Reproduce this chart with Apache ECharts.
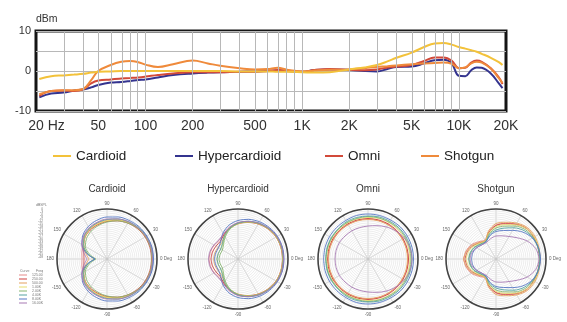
<!DOCTYPE html>
<html>
<head>
<meta charset="utf-8">
<script src="https://cdn.jsdelivr.net/npm/echarts@6/dist/echarts.min.js"></script>
<style>
  html, body { margin: 0; padding: 0; background: #fff; }
  #chart { width: 567px; height: 322px; }
</style>
</head>
<body>
<div id="chart"></div>
<script>
const FONT = "'Liberation Sans', Arial, sans-serif";

// ---- frequency response (dB vs Hz) ----
const freqs = [21, 25, 30, 35, 40, 45, 50, 60, 70, 80, 90, 100, 120, 150, 200, 250, 300, 400, 500, 600, 700, 800,
  1000, 1200, 1500, 2000, 2500, 3000, 3500, 4000, 5000, 6000, 7000, 8000, 9000, 10000, 11000, 12000, 13000, 14000,
  16000, 18000, 19000];
const cardioidDb = [-2.0, -1.3, -1.1, -0.9, -0.7, -0.4, -0.2, -0.1, 0, 0, 0, 0, 0, 0, 0, 0, 0, -0.1, -0.1, -0.1, -0.2, -0.2,
  -0.3, -0.4, -0.3, 0.4, 0.9, 1.5, 2.4, 3.3, 4.6, 6.0, 6.9, 7.0, 6.6, 6.0, 5.6, 5.2, 4.8, 4.3,
  3.3, 2.2, 1.5];
const hyperDb = [-6.6, -5.6, -5.4, -4.9, -4.6, -4.1, -3.5, -2.9, -2.75, -2.5, -2.25, -2.1, -1.6, -1.0, -0.6, -0.4, -0.3, -0.2, -0.1, 0, 0.1, 0,
  -0.2, 0.25, 0.4, 0.25, 0, -0.1, 0.5, 1.0, 1.1, 1.9, 2.7, 2.8, 1.9, -1.2, -1.3, 0.2, 0.9, 0.8,
  -0.6, -3.1, -4.3];
const omniDb = [-6.2, -5.0, -4.9, -5.0, -4.6, -3.1, -2.4, -2.1, -1.9, -1.75, -1.6, -1.4, -1.0, -0.6, -0.3, -0.3, -0.3, -0.2, -0.2, 0, 0.25, 0.1,
  -0.2, 0.25, 0.5, 0.3, 0.2, 0.4, 0.9, 1.1, 1.5, 2.5, 3.4, 3.4, 2.6, 0.7, 0.8, 2.1, 2.6, 2.3,
  0.7, -1.6, -3.3];
const shotgunDb = [-5.8, -5.0, -4.8, -4.8, -4.5, -2.3, 0, 1.5, 2.3, 2.5, 2.2, 1.6, 1.0, 1.7, 2.6, 1.9, 1.3, 0.7, 0.4, 0.5, 0.8, 0.3,
  -0.1, 0.1, 0.3, 0.4, 0.7, 1.0, 1.2, 1.4, 1.7, 1.9, 2.0, 2.1, 1.8, 0.7, 0.9, 1.9, 2.3, 2.1,
  0.6, -1.8, -3.0];

// grid lines at every 1..9 step of each decade, labels at 1-2-5 steps
const gridFreqs = [30, 40, 50, 60, 70, 80, 90, 100, 200, 300, 400, 500, 600, 700, 800, 900,
  1000, 2000, 3000, 4000, 5000, 6000, 7000, 8000, 9000, 10000];
const tickFreqs = [20, 50, 100, 200, 500, 1000, 2000, 5000, 10000, 20000];
const tickLabels = ['20 Hz', '50', '100', '200', '500', '1K', '2K', '5K', '10K', '20K'];
const dbLabelValues = [-10, 0, 10];

// ---- polar patterns: level (dB) at 0..180 deg, mirrored for the lower half ----
const polarAngles = [0, 15, 30, 45, 60, 75, 90, 105, 120, 135, 150, 165, 180];
const polarFreqs = ['125.00', '250.00', '500.00', '1.00K', '2.00K', '4.00K', '8.00K', '16.00K'];
const polarColors = ['#e58a8a', '#cf3f3f', '#e3a15f', '#e6dc6a', '#86b46e', '#55a3a0', '#5676c4', '#a779b3'];

const cardioidPolar = [
  [-5, -5, -5.5, -6.5, -8, -9.5, -11.5, -13, -15, -17.5, -22, -24, -25],
  [-5.5, -5.5, -6, -7, -8.5, -10.5, -12.5, -14.5, -16.5, -19, -23, -26, -27],
  [-5, -5, -5.5, -6.5, -8, -10, -12, -14, -16, -19, -23, -28, -32],
  [-4.5, -4.5, -5, -6, -7.5, -9.5, -11.5, -13.5, -15.5, -18.5, -23, -30, -37],
  [-5, -5, -5.5, -6.5, -8.5, -10.5, -13, -15.5, -18, -21, -25, -32, -39],
  [-4, -4, -4.5, -5.5, -7, -8.5, -10.5, -12.5, -15, -18, -23, -30, -38],
  [-3.5, -3.5, -4, -4.5, -5.5, -6.5, -8, -10, -12.5, -16, -21, -29, -38],
  [-4.5, -4.5, -5, -6, -7, -8.5, -10, -12, -14, -17, -21, -26, -30]
];
const hyperPolar = [
  [-5, -5, -5.5, -7, -9, -11.5, -14, -17.5, -21.5, -23.5, -22.5, -21.5, -21],
  [-5.5, -5.5, -6, -7.5, -9.5, -12, -14.5, -18, -22, -25, -24.5, -23.5, -23],
  [-5.5, -5.5, -6, -7.5, -9.5, -12, -15, -18.5, -23, -27, -27, -26, -25.5],
  [-5, -5, -5.5, -7, -9, -11.5, -14.5, -18.5, -23.5, -28.5, -30, -29.5, -29],
  [-5, -5, -5.5, -7, -9, -11.5, -14.5, -19, -24.5, -29.5, -32, -31.5, -31],
  [-4.5, -4.5, -5, -6.5, -8.5, -11, -14, -18, -23, -28, -30, -29.5, -29],
  [-4, -4, -4.5, -5.5, -7, -9, -11.5, -15, -20, -25.5, -27.5, -27, -26.5],
  [-4.5, -4.5, -5, -6.5, -8.5, -11, -13.5, -17, -21, -23, -22, -21, -20.5]
];
const omniPolar = [
  [-10, -10, -10, -10, -10, -10, -10, -10, -10, -10, -10, -10, -10],
  [-9.5, -9.5, -9.5, -9.5, -9.5, -9.5, -9.5, -9.5, -9.5, -9.5, -9.5, -9.5, -9.5],
  [-10.5, -10.5, -10.5, -10.5, -10.5, -10.5, -10.5, -10.5, -10.5, -10.5, -10.5, -10.5, -10.5],
  [-8, -8, -8, -8, -8, -8, -8.5, -8.5, -8.5, -8.5, -8.5, -8.5, -8.5],
  [-7, -7, -7, -7, -7.5, -7.5, -7.5, -8, -8, -8, -8, -8, -8],
  [-6, -6, -6, -6, -6.5, -6.5, -7, -7, -7, -7.5, -7.5, -7.5, -7.5],
  [-4.5, -4.5, -4.5, -4.5, -5, -5, -5, -5, -5.5, -5.5, -5.5, -5.5, -5.5],
  [-6, -6.5, -8, -10.5, -13, -15.5, -17, -17.5, -17.5, -17.5, -17, -17, -17]
];
const shotgunPolar = [
  [-6, -6, -6, -6.5, -9.5, -13, -16, -22, -28, -25.5, -21.5, -19, -17.5],
  [-6.5, -6.5, -6.5, -7, -10, -13.5, -16.5, -22.5, -29, -27, -23.5, -20.5, -19],
  [-6, -5.5, -5, -5.5, -8.5, -12, -14.5, -21, -28.5, -26.5, -22.5, -19.5, -17.5],
  [-6, -6, -6, -7, -10.5, -14.5, -17.5, -23, -29, -27.5, -24, -21.5, -20],
  [-6.5, -6.5, -7, -8.5, -12, -16, -19, -24, -29.5, -28.5, -25.5, -23.5, -22.5],
  [-6, -6.5, -7.5, -10, -14, -18, -21, -25, -30, -29, -26, -24, -23],
  [-5.5, -6, -8, -12, -17, -20.5, -22.5, -26, -30, -30, -27.5, -26, -25.5],
  [-7, -9, -14, -20, -24, -26, -27, -29, -31, -30, -27.5, -25, -24]
];
const dbScaleLabels = ['0', '-3', '-6', '-9', '-12', '-15', '-18', '-21', '-24', '-27', '-30', '-33', '-36', '-39', '-42', '-45', '-48'];

const mics = [
  { name: 'Cardioid', cx: 107, levels: cardioidPolar },
  { name: 'Hypercardioid', cx: 238, levels: hyperPolar },
  { name: 'Omni', cx: 368, levels: omniPolar },
  { name: 'Shotgun', cx: 496, levels: shotgunPolar }
];

const lg = Math.log10;
const pairs = vals => freqs.map((f, i) => [lg(f), vals[i]]);

// closed loop from -180 through 0 to 180 deg
function loop(vals) {
  const pts = [];
  for (let i = polarAngles.length - 1; i > 0; i--) pts.push([vals[i], -polarAngles[i]]);
  for (let i = 0; i < polarAngles.length; i++) pts.push([vals[i], polarAngles[i]]);
  return pts;
}

// vertical frequency grid, drawn under the curves
const freqGridSeries = {
  name: 'freq-grid', type: 'line', xAxisIndex: 0, yAxisIndex: 0, z: 1, silent: true,
  data: [], showSymbol: false,
  markLine: {
    silent: true, symbol: 'none', label: { show: false }, animation: false,
    lineStyle: { color: '#b8b8b8', width: 1, type: 'solid' },
    emphasis: { disabled: true },
    data: gridFreqs.map(f => ({ xAxis: lg(f) }))
  }
};

const responseSeries = [
  { name: 'Hypercardioid', color: '#34348f', vals: hyperDb },
  { name: 'Omni', color: '#d24a3a', vals: omniDb },
  { name: 'Shotgun', color: '#ef8a3b', vals: shotgunDb },
  { name: 'Cardioid', color: '#f3c23a', vals: cardioidDb }
].map(s => ({
  name: s.name, type: 'line', xAxisIndex: 0, yAxisIndex: 0, z: 3,
  data: pairs(s.vals), smooth: 0.4, showSymbol: false, symbol: 'none',
  lineStyle: { width: 2, color: s.color }, itemStyle: { color: s.color }
}));

const polarSeries = [];
mics.forEach((m, pi) => {
  m.levels.forEach((vals, k) => {
    polarSeries.push({
      name: polarFreqs[k], type: 'line', coordinateSystem: 'polar', polarIndex: pi,
      data: loop(vals), smooth: 0.3, showSymbol: false, symbol: 'none',
      lineStyle: { width: 0.9, color: polarColors[k] }, itemStyle: { color: polarColors[k] }
    });
  });
});

const legendPos = [['Cardioid', 53], ['Hypercardioid', 175], ['Omni', 325], ['Shotgun', 421]];
const legends = legendPos.map(([n, x]) => ({
  data: [n], left: x, top: 149, padding: 0, icon: 'rect', itemWidth: 18, itemHeight: 2,
  textStyle: { fontFamily: FONT, fontSize: 13.5, color: '#222' }, selectedMode: false
}));
legends.push({
  data: polarFreqs, orient: 'vertical', left: 19, top: 273, padding: 0, itemGap: 0,
  icon: 'rect', itemWidth: 8, itemHeight: 1, selectedMode: false,
  textStyle: { fontFamily: FONT, fontSize: 3.5, lineHeight: 3.9, color: '#777' }
});

const graphics = [];
mics.forEach(m => graphics.push({
  type: 'text', x: m.cx, y: 184,
  style: { text: m.name, font: '10px ' + FONT, fill: '#333', textAlign: 'center' }
}));
graphics.push({ type: 'text', x: 36, y: 203, style: { text: 'dBSPL', font: '3.5px ' + FONT, fill: '#777' } });
dbScaleLabels.forEach((t, i) => graphics.push({
  type: 'text', x: 43, y: 208 + i * 3,
  style: { text: t, font: '3.3px ' + FONT, fill: '#777', textAlign: 'right' }
}));
graphics.push({ type: 'text', x: 20, y: 269, style: { text: 'Curve', font: '3.5px ' + FONT, fill: '#777' } });
graphics.push({ type: 'text', x: 36, y: 269, style: { text: 'Freq', font: '3.5px ' + FONT, fill: '#777' } });

const option = {
  animation: false,
  backgroundColor: '#fff',
  textStyle: { fontFamily: FONT },
  grid: { left: 36, top: 31, width: 470, height: 80, show: true, borderColor: '#151515', borderWidth: 3, containLabel: false },
  xAxis: {
    type: 'value', min: lg(20), max: lg(20000),
    axisLine: { show: false },
    axisTick: { show: false },
    splitLine: { show: false },
    axisLabel: {
      customValues: tickFreqs.map(lg), margin: 8, fontSize: 14, color: '#333', fontFamily: FONT,
      formatter: v => {
        const i = tickFreqs.findIndex(f => Math.abs(lg(f) - v) < 1e-6);
        if (i < 0) return '';
        return i === 0 ? '{first|' + tickLabels[0] + '}' : tickLabels[i];
      },
      rich: { first: { padding: [0, 0, 0, 21], fontSize: 14, fontFamily: FONT, color: '#333' } }
    }
  },
  yAxis: {
    type: 'value', min: -10, max: 10, interval: 5,
    name: 'dBm', nameLocation: 'end', nameGap: 6,
    nameTextStyle: { align: 'left', fontSize: 10.5, color: '#333', fontFamily: FONT },
    axisLine: { show: false }, axisTick: { show: false },
    splitLine: { show: true, lineStyle: { color: '#b8b8b8', width: 1 } },
    axisLabel: {
      margin: 5, fontSize: 11, color: '#333', fontFamily: FONT,
      formatter: v => dbLabelValues.includes(v) ? String(v) : ''
    }
  },
  polar: mics.map(m => ({ center: [m.cx, 259], radius: 50 })),
  angleAxis: mics.map((m, i) => ({
    polarIndex: i, type: 'value', min: -180, max: 180, interval: 30,
    startAngle: 180, clockwise: false,
    axisLine: { lineStyle: { color: '#444', width: 1.6 } },
    axisTick: { show: false },
    splitLine: { lineStyle: { color: '#c4c4c4', width: 0.6 } },
    axisLabel: {
      fontSize: 4.5, color: '#666', margin: 3, fontFamily: FONT,
      formatter: v => (v === 0 ? '0 Deg' : (Math.abs(v) === 180 ? '180' : String(v)))
    }
  })),
  radiusAxis: mics.map((m, i) => ({
    polarIndex: i, type: 'value', min: -50, max: 0, interval: 2,
    axisLine: { show: false }, axisTick: { show: false }, axisLabel: { show: false },
    splitLine: { lineStyle: { color: '#dadada', width: 0.5 } }
  })),
  legend: legends,
  graphic: graphics,
  series: [freqGridSeries].concat(responseSeries, polarSeries)
};

const chart = echarts.init(document.getElementById('chart'), null, { renderer: 'canvas' });
chart.setOption(option);
</script>
</body>
</html>
